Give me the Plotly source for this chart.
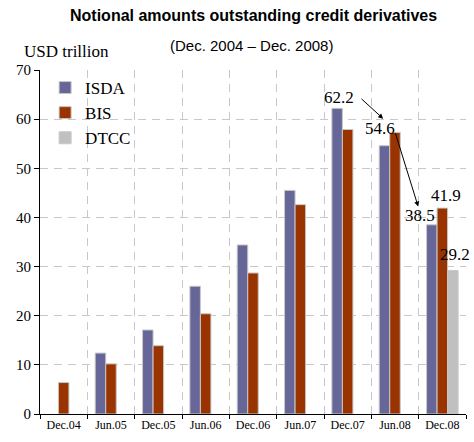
import plotly.graph_objects as go

periods = ["Dec.04", "Jun.05", "Dec.05", "Jun.06", "Dec.06", "Jun.07", "Dec.07", "Jun.08", "Dec.08"]
isda = [None, 12.4, 17.1, 26.0, 34.4, 45.5, 62.2, 54.6, 38.5]
bis = [6.4, 10.2, 13.9, 20.4, 28.7, 42.6, 57.9, 57.3, 41.9]
dtcc = [None, None, None, None, None, None, None, None, 29.2]

series_names = ["ISDA", "BIS", "DTCC"]
series_colors = ["#666699", "#993300", "#C0C0C0"]

# labels: (text, x position in category index units, y value)
labels = [("62.2", 5.82, 64.5), ("54.6", 6.68, 58.0), ("38.5", 7.53, 40.3),
          ("41.9", 8.08, 44.4), ("29.2", 8.27, 32.4)]
# arrows: (tail x, tail y, head x, head y)
arrows = [(6.26, 64.4, 6.75, 60.1), (7.0, 57.4, 7.49, 42.2)]

SERIF = "'Liberation Serif', 'Times New Roman', Times, serif"
SANS = "'Liberation Sans', Arial, sans-serif"

fig = go.Figure()
for name, vals, col in zip(series_names, [isda, bis, dtcc], series_colors):
    fig.add_trace(go.Bar(
        x=periods, y=vals, name=name,
        marker=dict(color=col, line=dict(color="#C8C8C8", width=1)),
    ))

fig.update_layout(
    width=474, height=442,
    margin=dict(l=40, r=8, t=70, b=28),
    paper_bgcolor="white", plot_bgcolor="white",
    barmode="group", bargap=0.333, bargroupgap=0,
    title=dict(text="<b>Notional amounts outstanding credit derivatives</b>",
               x=0.535, xanchor="center", y=0.966, yanchor="middle",
               font=dict(family=SANS, size=16, color="#000000")),
    showlegend=True,
    legend=dict(x=0.012, y=1.0, xanchor="left", yanchor="top",
                bgcolor="rgba(0,0,0,0)", font=dict(family=SERIF, size=17, color="#000000"),
                tracegroupgap=0, itemclick=False),
    xaxis=dict(type="category", tickson="boundaries", ticks="outside", ticklen=4,
               tickcolor="#000000", showline=True, linecolor="#000000", linewidth=1,
               showgrid=True, gridcolor="#C8C8C8", griddash="8px,6px", gridwidth=1,
               tickfont=dict(family=SERIF, size=12, color="#000000"),
               range=[-0.5, 8.5], fixedrange=True),
    yaxis=dict(range=[0, 70], dtick=10, ticks="outside", ticklen=5, tickcolor="#000000",
               showline=True, linecolor="#000000", linewidth=1,
               showgrid=True, gridcolor="#C8C8C8", griddash="8px,6px", gridwidth=1,
               zeroline=False, tickfont=dict(family=SERIF, size=15, color="#000000"),
               fixedrange=True),
)

fig.add_annotation(x=0.497, y=1.0 + (70 - 45) / 344.0, xref="paper", yref="paper",
                   text="(Dec. 2004 \u2013 Dec. 2008)", showarrow=False,
                   font=dict(family=SANS, size=15, color="#000000"), yanchor="middle")
fig.add_annotation(x=-0.043, y=1.0 + (70 - 52) / 344.0, xref="paper", yref="paper",
                   text="USD trillion", showarrow=False, xanchor="left",
                   font=dict(family=SERIF, size=17, color="#000000"), yanchor="middle")
for txt, xi, yv in labels:
    fig.add_annotation(x=xi, y=yv, xref="x", yref="y", text=txt, showarrow=False,
                       font=dict(family=SERIF, size=17, color="#000000"))
for tx, ty, hx, hy in arrows:
    fig.add_annotation(x=hx, y=hy, ax=tx, ay=ty, xref="x", yref="y", axref="x", ayref="y",
                       text="", showarrow=True, arrowhead=2, arrowsize=1, arrowwidth=1,
                       arrowcolor="#000000")

fig.write_html("out.html")
